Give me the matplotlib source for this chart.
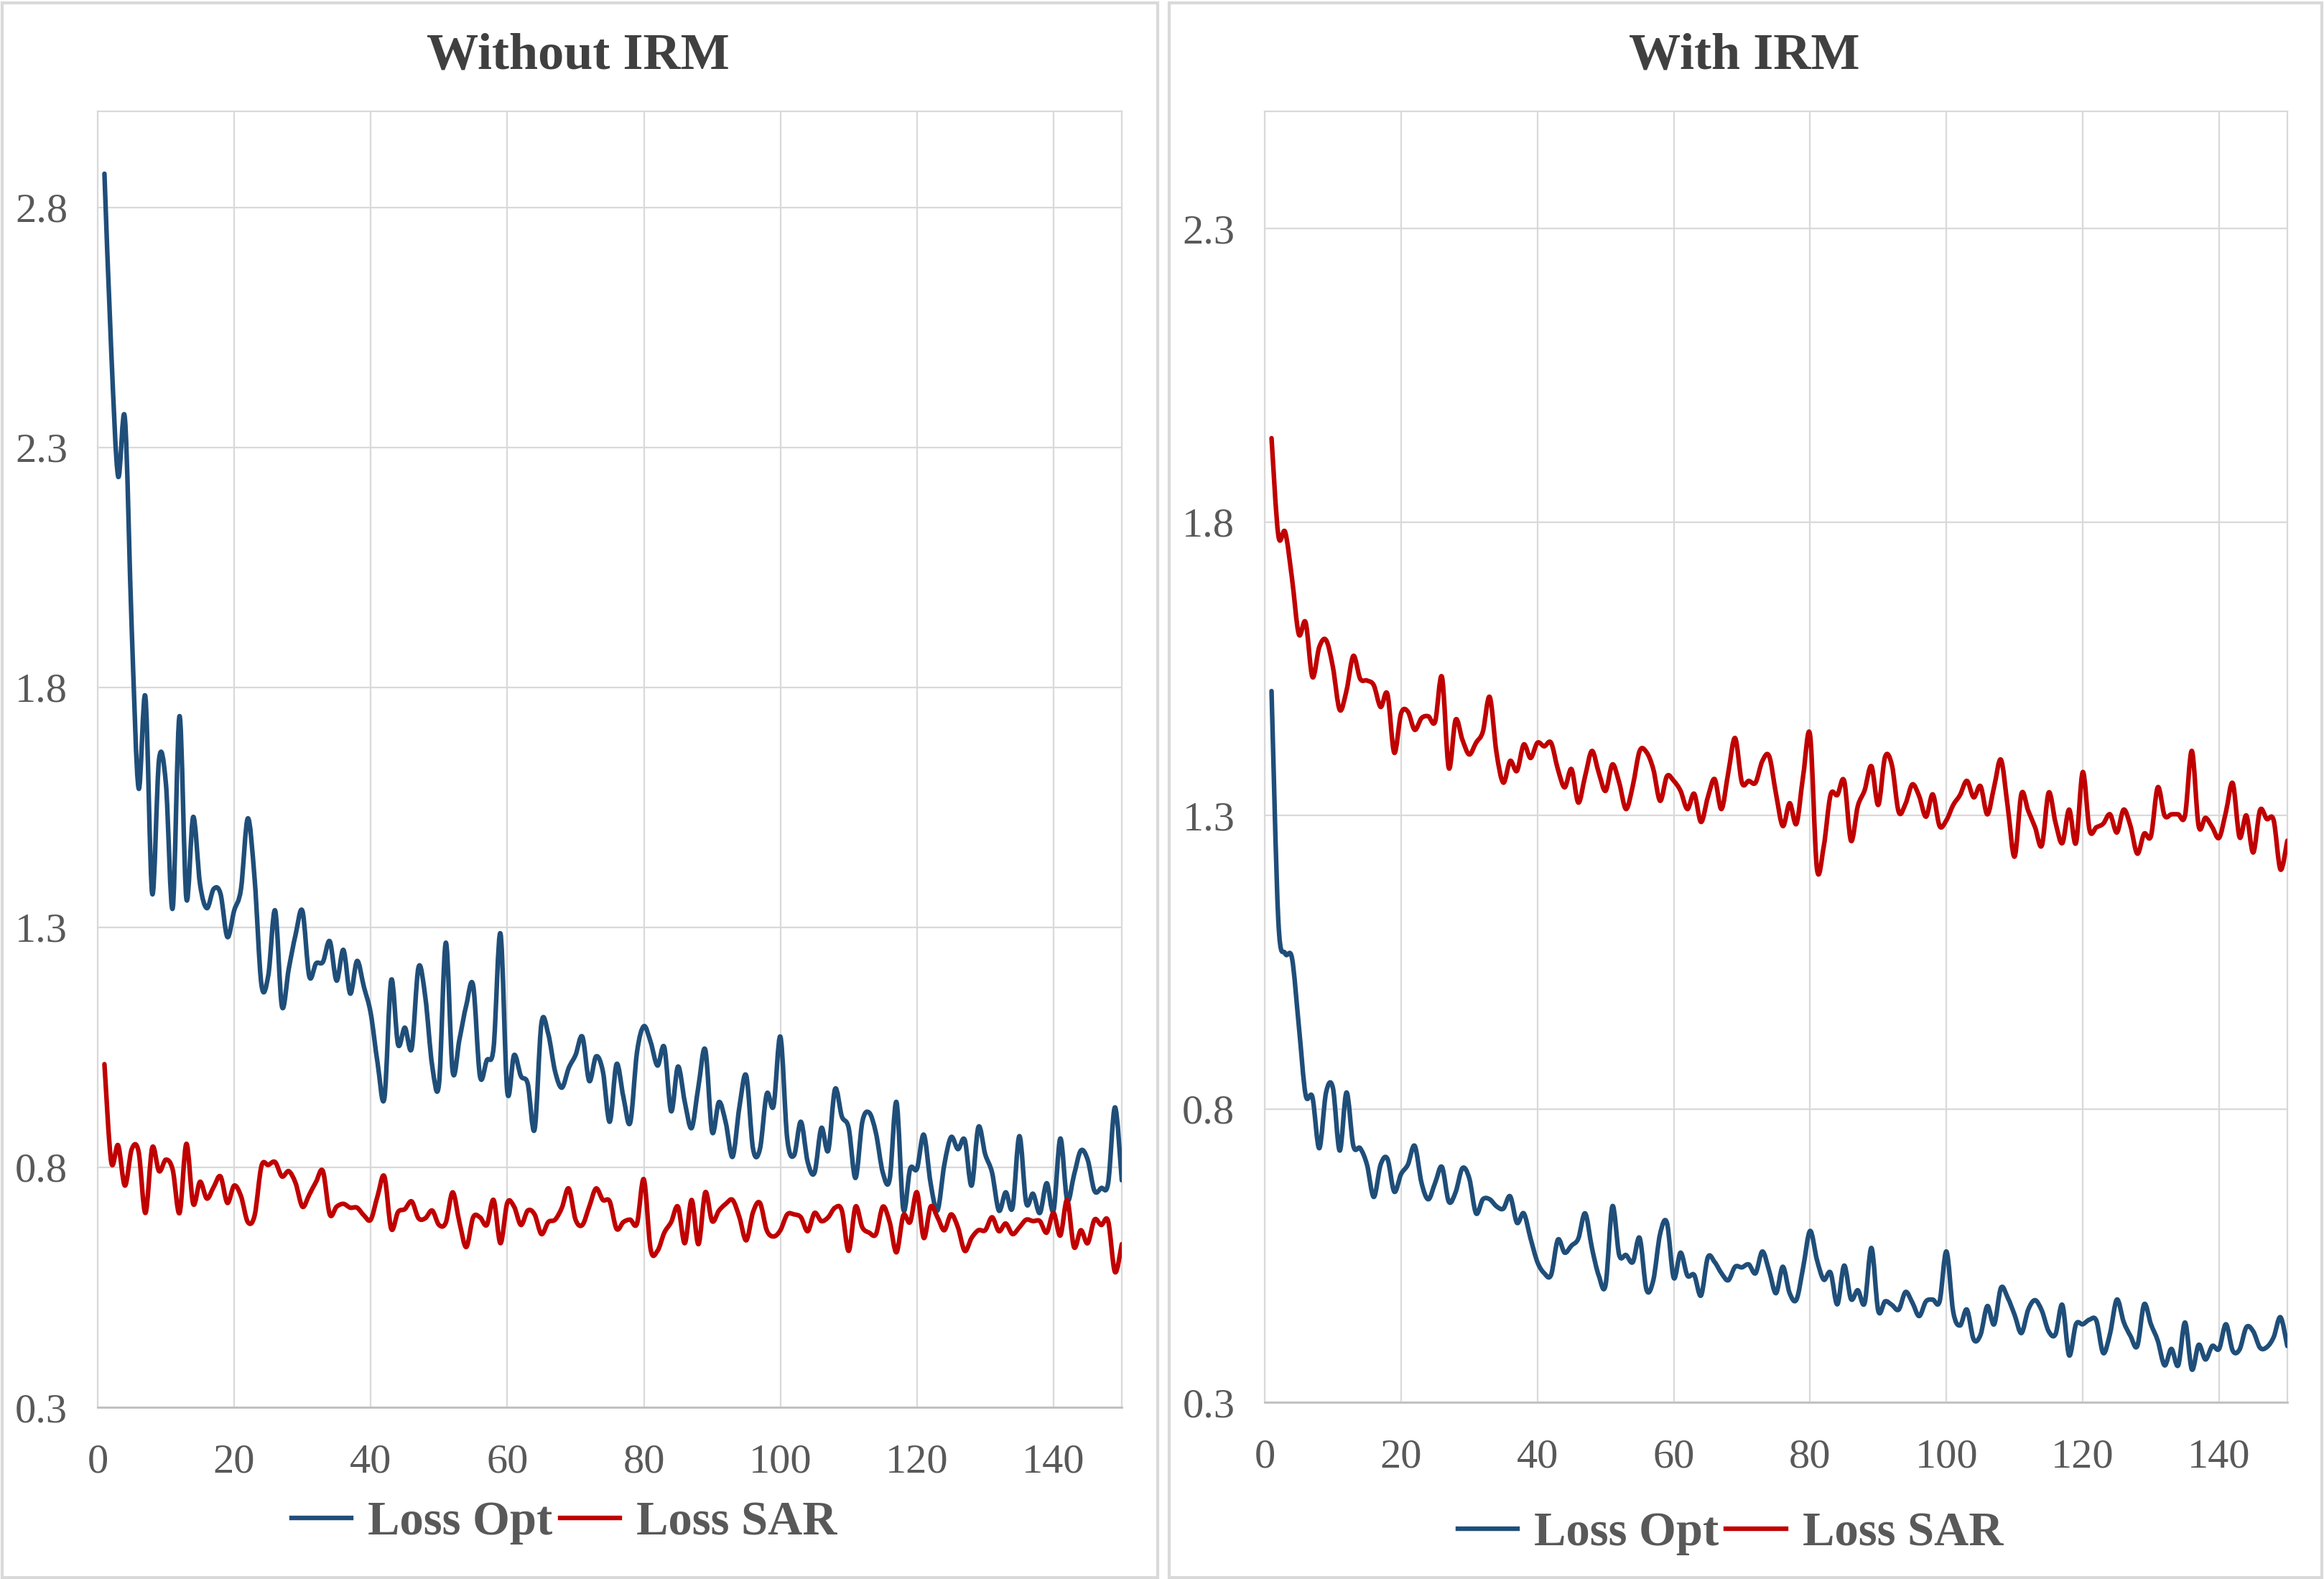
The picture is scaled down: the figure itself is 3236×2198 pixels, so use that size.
import numpy as np
import matplotlib
matplotlib.use("Agg")
import matplotlib.pyplot as plt
from matplotlib.path import Path
from matplotlib.patches import PathPatch, Rectangle
from matplotlib.lines import Line2D

plt.rcParams['font.family'] = ['Liberation Serif', 'DejaVu Serif']

epochs = np.arange(1, 151)

opt_without = [
    2.87, 2.50, 2.24, 2.36, 1.92, 1.59, 1.78, 1.37, 1.65, 1.60,
    1.34, 1.74, 1.36, 1.53, 1.39, 1.34, 1.38, 1.37, 1.28, 1.335,
    1.38, 1.527, 1.40, 1.18, 1.20, 1.335, 1.135, 1.214, 1.285, 1.334,
    1.198, 1.225, 1.228, 1.271, 1.189, 1.253, 1.162, 1.23, 1.176, 1.121,
    1.018, 0.944, 1.19, 1.056, 1.091, 1.048, 1.217, 1.154, 1.012, 0.974,
    1.268, 1.0, 1.067, 1.138, 1.179, 0.99, 1.023, 1.05, 1.287, 0.958,
    1.034, 0.99, 0.974, 0.879, 1.1, 1.078, 1.0, 0.966, 1.007, 1.034,
    1.072, 0.98, 1.031, 1.0, 0.895, 1.015, 0.947, 0.893, 1.04, 1.094,
    1.061, 1.012, 1.05, 0.917, 1.01, 0.936, 0.882, 0.969, 1.045, 0.874,
    0.936, 0.893, 0.822, 0.926, 0.991, 0.838, 0.838, 0.953, 0.928, 1.072,
    0.86, 0.825, 0.895, 0.811, 0.789, 0.882, 0.835, 0.963, 0.906, 0.882,
    0.778, 0.895, 0.914, 0.871, 0.789, 0.775, 0.936, 0.713, 0.797, 0.797,
    0.868, 0.767, 0.71, 0.805, 0.863, 0.838, 0.857, 0.762, 0.884, 0.827,
    0.789, 0.71, 0.748, 0.716, 0.865, 0.726, 0.745, 0.705, 0.767, 0.71,
    0.86, 0.732, 0.784, 0.835, 0.816, 0.751, 0.757, 0.767, 0.925, 0.773,
]

sar_without = [
    1.015, 0.811, 0.846, 0.762, 0.838, 0.833, 0.705, 0.841, 0.792, 0.816,
    0.795, 0.705, 0.849, 0.724, 0.77, 0.735, 0.759, 0.781, 0.726, 0.762,
    0.74, 0.686, 0.70, 0.803, 0.805, 0.811, 0.781, 0.792, 0.767, 0.718,
    0.743, 0.77, 0.792, 0.702, 0.718, 0.724, 0.716, 0.716, 0.70, 0.691,
    0.74, 0.781, 0.672, 0.707, 0.713, 0.729, 0.694, 0.694, 0.71, 0.68,
    0.685, 0.748, 0.685, 0.634, 0.696, 0.696, 0.68, 0.732, 0.642, 0.726,
    0.718, 0.68, 0.71, 0.702, 0.661, 0.686, 0.691, 0.716, 0.756, 0.691,
    0.68, 0.718, 0.756, 0.732, 0.729, 0.672, 0.686, 0.691, 0.683, 0.775,
    0.629, 0.626, 0.664, 0.686, 0.718, 0.642, 0.732, 0.64, 0.748, 0.688,
    0.71, 0.724, 0.732, 0.696, 0.648, 0.707, 0.726, 0.669, 0.656, 0.669,
    0.702, 0.702, 0.696, 0.667, 0.705, 0.688, 0.696, 0.716, 0.71, 0.626,
    0.718, 0.675, 0.664, 0.661, 0.718, 0.686, 0.623, 0.70, 0.686, 0.748,
    0.653, 0.718, 0.696, 0.669, 0.702, 0.675, 0.626, 0.653, 0.669, 0.669,
    0.696, 0.667, 0.683, 0.661, 0.675, 0.691, 0.688, 0.688, 0.664, 0.705,
    0.658, 0.732, 0.634, 0.669, 0.642, 0.691, 0.68, 0.688, 0.582, 0.64,
]

opt_with = [
    1.512, 1.12, 1.065, 1.057, 0.942, 0.824, 0.82, 0.733, 0.828, 0.836,
    0.729, 0.828, 0.737, 0.733, 0.705, 0.65, 0.705, 0.715, 0.659, 0.689,
    0.705, 0.737, 0.674, 0.646, 0.674, 0.701, 0.642, 0.658, 0.699, 0.682,
    0.622, 0.646, 0.646, 0.634, 0.63, 0.651, 0.606, 0.622, 0.579, 0.539,
    0.52, 0.517, 0.577, 0.555, 0.567, 0.579, 0.622, 0.563, 0.516, 0.50,
    0.634, 0.551, 0.551, 0.539, 0.58, 0.492, 0.508, 0.587, 0.606, 0.512,
    0.555, 0.516, 0.517, 0.482, 0.547, 0.539, 0.52, 0.508, 0.531, 0.53,
    0.535, 0.52, 0.557, 0.524, 0.486, 0.531, 0.486, 0.475, 0.531, 0.592,
    0.543, 0.509, 0.521, 0.467, 0.533, 0.476, 0.491, 0.469, 0.563, 0.456,
    0.472, 0.466, 0.458, 0.488, 0.47, 0.447, 0.472, 0.475, 0.472, 0.557,
    0.454, 0.431, 0.458, 0.407, 0.415, 0.464, 0.433, 0.495, 0.478, 0.449,
    0.418, 0.458, 0.474, 0.456, 0.421, 0.416, 0.466, 0.38, 0.433, 0.433,
    0.441, 0.439, 0.384, 0.417, 0.475, 0.437, 0.413, 0.396, 0.467, 0.433,
    0.405, 0.363, 0.391, 0.363, 0.436, 0.356, 0.398, 0.373, 0.396, 0.391,
    0.433, 0.388, 0.39, 0.428, 0.421, 0.393, 0.394, 0.411, 0.445, 0.396,
]

sar_with = [
    1.943, 1.777, 1.783, 1.704, 1.609, 1.629, 1.536, 1.587, 1.599, 1.553,
    1.48, 1.513, 1.572, 1.533, 1.53, 1.522, 1.485, 1.507, 1.407, 1.474,
    1.477, 1.446, 1.466, 1.469, 1.46, 1.536, 1.381, 1.463, 1.429, 1.404,
    1.424, 1.443, 1.502, 1.407, 1.356, 1.393, 1.376, 1.421, 1.398, 1.424,
    1.418, 1.424, 1.379, 1.348, 1.379, 1.322, 1.367, 1.41, 1.373, 1.342,
    1.387, 1.356, 1.311, 1.351, 1.41, 1.408, 1.379, 1.325, 1.367, 1.359,
    1.342, 1.311, 1.337, 1.289, 1.331, 1.362, 1.311, 1.373, 1.432, 1.356,
    1.359, 1.356, 1.393, 1.401, 1.337, 1.282, 1.321, 1.286, 1.369, 1.437,
    1.21, 1.247, 1.335, 1.335, 1.359, 1.257, 1.316, 1.343, 1.384, 1.318,
    1.40, 1.386, 1.306, 1.32, 1.353, 1.333, 1.298, 1.336, 1.282, 1.292,
    1.318, 1.335, 1.359, 1.331, 1.35, 1.302, 1.349, 1.395, 1.314, 1.23,
    1.337, 1.308, 1.28, 1.249, 1.339, 1.288, 1.253, 1.31, 1.253, 1.374,
    1.275, 1.28, 1.286, 1.302, 1.271, 1.31, 1.282, 1.235, 1.269, 1.265,
    1.348, 1.30, 1.302, 1.302, 1.30, 1.41, 1.282, 1.296, 1.28, 1.262,
    1.306, 1.355, 1.263, 1.30, 1.237, 1.309, 1.294, 1.292, 1.208, 1.257,
]

titles = ["Without IRM", "With IRM"]
labels = ["Loss Opt", "Loss SAR"]
BLUE = "#1F4E79"
RED = "#C00000"
GRID = "#D9D9D9"
TXT = "#595959"
LW = 2.3


def smooth_line(ax, x, y, color):
    # excel style smoothed line: cubic bezier through every point
    x = np.asarray(x, float)
    y = np.asarray(y, float)
    n = len(x)
    verts = [(x[0], y[0])]
    codes = [Path.MOVETO]
    for i in range(n - 1):
        a = max(i - 1, 0)
        b = min(i + 2, n - 1)
        c1 = (x[i] + (x[i + 1] - x[a]) / 6, y[i] + (y[i + 1] - y[a]) / 6)
        c2 = (x[i + 1] - (x[b] - x[i]) / 6, y[i + 1] - (y[b] - y[i]) / 6)
        verts += [c1, c2, (x[i + 1], y[i + 1])]
        codes += [Path.CURVE4] * 3
    patch = PathPatch(Path(verts, codes), fill=False, edgecolor=color,
                      lw=LW, capstyle='round', joinstyle='round', zorder=3)
    ax.add_patch(patch)


def setup(ax, ymax, yticks):
    ax.set_xlim(0, 150)
    ax.set_ylim(0.3, ymax)
    ax.set_xticks(range(0, 141, 20))
    ax.set_yticks(yticks)
    ax.set_yticklabels([f"{t:.1f}" for t in yticks])
    ax.grid(True, color=GRID, lw=0.8)
    ax.set_axisbelow(True)
    for s in ax.spines.values():
        s.set_color(GRID)
        s.set_linewidth(0.8)
    ax.spines['bottom'].set_color("#BFBFBF")
    ax.spines['bottom'].set_linewidth(1.0)
    ax.tick_params(length=0, labelsize=21, labelcolor=TXT)
    ax.tick_params(axis='y', pad=15)
    ax.tick_params(axis='x', pad=18)


fig = plt.figure(figsize=(16.18, 10.99), dpi=200)

# chart area borders
fig.patches.append(Rectangle((0.001, 0.001), 0.497, 0.997, transform=fig.transFigure,
                             fill=False, edgecolor=GRID, lw=1.5))
fig.patches.append(Rectangle((0.503, 0.001), 0.496, 0.997, transform=fig.transFigure,
                             fill=False, edgecolor=GRID, lw=1.5))

ax1 = fig.add_axes([0.0420, 0.1087, 0.4407, 0.8208])
ax2 = fig.add_axes([0.5442, 0.1119, 0.4400, 0.8176])

setup(ax1, 3.0, np.arange(0.3, 2.81, 0.5))
setup(ax2, 2.5, np.arange(0.3, 2.31, 0.5))

smooth_line(ax1, epochs, opt_without, BLUE)
smooth_line(ax1, epochs, sar_without, RED)
smooth_line(ax2, epochs, opt_with, BLUE)
smooth_line(ax2, epochs, sar_with, RED)

handles = [Line2D([], [], color=BLUE, lw=LW), Line2D([], [], color=RED, lw=LW)]
title_x = [0.2488, 0.7506]
leg_y = [0.0357, 0.0288]
for i, ax in enumerate([ax1, ax2]):
    fig.text(title_x[i], 0.9645, titles[i], ha='center', va='center',
             fontsize=26, fontweight='bold', color="#404040")
    leg = ax.legend(handles, labels, loc='center', ncol=2, frameon=False,
                    bbox_to_anchor=(title_x[i] - 0.006, leg_y[i]),
                    bbox_transform=fig.transFigure,
                    prop={'size': 24, 'weight': 'bold'},
                    handlelength=1.25, handletextpad=0.35, columnspacing=0.15)
    for t in leg.get_texts():
        t.set_color(TXT)

fig.savefig("out.png", dpi=200)
